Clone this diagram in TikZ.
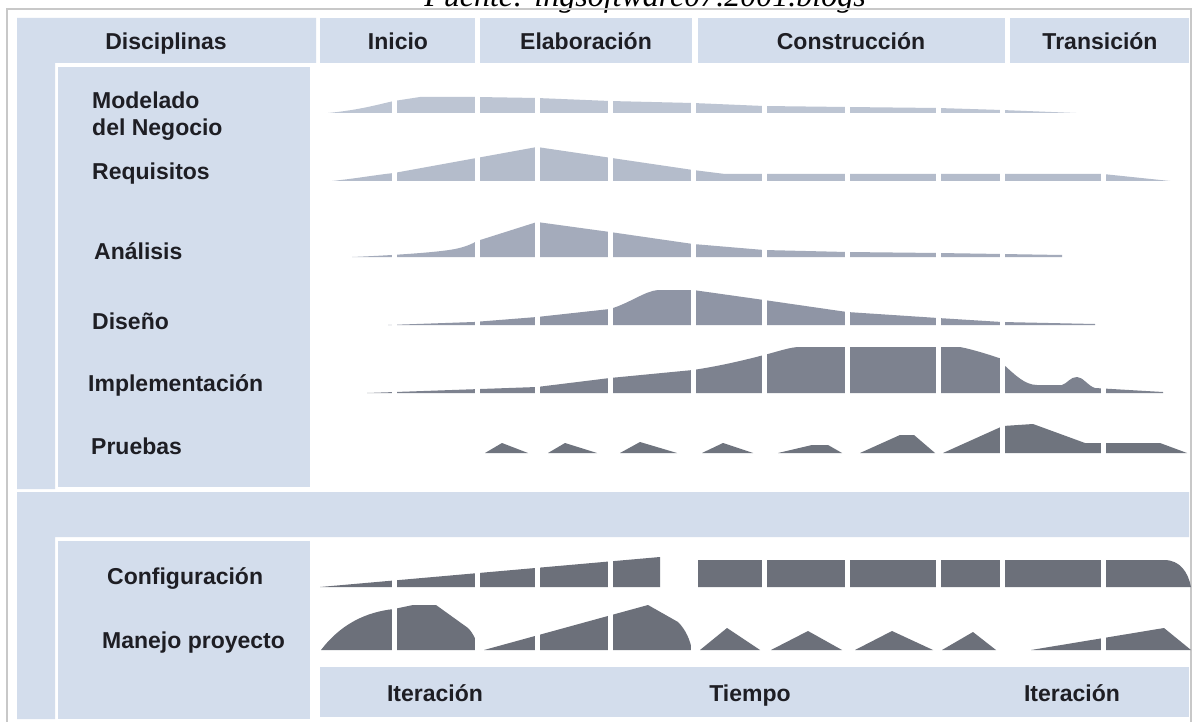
\documentclass[tikz,border=0pt]{standalone}
\usepackage{fontspec}
\setmainfont{Liberation Sans}
\newfontfamily\sourcefont{Liberation Serif}

\definecolor{panelblue}{RGB}{211,221,236}
\definecolor{framegray}{RGB}{200,200,200}
\definecolor{inktext}{RGB}{30,30,36}
\definecolor{modcol}{RGB}{189,197,211}
\definecolor{reqcol}{RGB}{180,188,203}
\definecolor{anacol}{RGB}{164,171,187}
\definecolor{discol}{RGB}{143,149,165}
\definecolor{impcol}{RGB}{125,130,143}
\definecolor{prucol}{RGB}{111,116,126}
\definecolor{supcol}{RGB}{108,112,122}

\tikzstyle{headtext} = [font=\fontsize{23}{27}\selectfont\bfseries, text=inktext, inner sep=0pt, text height=17pt, text depth=5pt]
\tikzstyle{rowtext} = [font=\fontsize{23}{27}\selectfont\bfseries, text=inktext, inner sep=0pt, anchor=west, align=left]
\tikzstyle{sepline} = [draw=white, line width=5pt]

\begin{document}
\begin{tikzpicture}[x=1pt, y=-1pt]

	\useasboundingbox (0,0) rectangle (1194,722);
	\clip (0,0) rectangle (1194,722);
	\fill[white] (0,0) rectangle (1194,722);

	% Source line, cut off at the top
	\node[anchor=base, inner sep=0pt, font=\sourcefont\itshape\fontsize{32}{36}\selectfont] (source) at (645,7) {Fuente: ingsoftware07.2001.blogs};

	% Frame and blue panels
	\draw[framegray, line width=1.5pt] (7,9) rectangle (1191,740);
	\fill[panelblue] (17,18) -- (316,18) -- (316,63) -- (55,63) -- (55,489) -- (17,489) -- cycle;
	\fill[panelblue] (17,492) -- (1189,492) -- (1189,537) -- (55,537) -- (55,719) -- (17,719) -- cycle;
	\fill[panelblue] (58,67) rectangle (310,487);
	\fill[panelblue] (58,541) rectangle (310,719);
	\fill[panelblue] (320,667) rectangle (1189,717);

	% Phases
	\fill[panelblue] (320,18) rectangle (475,63);
	\fill[panelblue] (480,18) rectangle (692,63);
	\fill[panelblue] (698,18) rectangle (1005,63);
	\fill[panelblue] (1010,18) rectangle (1189,63);
	\node[headtext] (disc) at (166,44) {Disciplinas};
	\node[headtext] (inicio) at (398,44) {Inicio};
	\node[headtext] (elab) at (586,44) {Elaboración};
	\node[headtext] (constr) at (851,44) {Construcción};
	\node[headtext] (trans) at (1100,44) {Transición};

	% Disciplines
	\node[rowtext] (modelado) at (92,116) {Modelado\\del Negocio};
	\node[rowtext] (requisitos) at (92,174) {Requisitos};
	\node[rowtext] (analisis) at (94,251) {Análisis};
	\node[rowtext] (diseno) at (92,321) {Diseño};
	\node[rowtext] (implem) at (88,385) {Implementación};
	\node[rowtext] (pruebas) at (91,446) {Pruebas};
	\node[rowtext] (config) at (107,578) {Configuración};
	\node[rowtext] (manejo) at (102,643) {Manejo proyecto};

	% Bottom axis
	\node[headtext] (iter1) at (435,695) {Iteración};
	\node[headtext] (tiempo) at (750,695) {Tiempo};
	\node[headtext] (iter2) at (1072,695) {Iteración};

	% Humps
	\fill[modcol] (328,113) .. controls (360,110) and (380,104) .. (394,101) -- (420,97) -- (477,97) -- (537,98) -- (610,101) -- (693,103) -- (764,106) -- (847,107) -- (938,108) -- (1002,110) -- (1076,113) -- cycle;
	\fill[reqcol] (332,181) .. controls (360,178) and (375,175) .. (394,173) -- (537,147) -- (693,170) -- (725,174) -- (1103,174) -- (1170,181) -- cycle;
	\fill[anacol] (352,257) .. controls (400,255) and (440,252) .. (455,249) .. controls (465,247) and (472,244) .. (477,241) -- (537,222) -- (610,232) -- (693,244) -- (764,250) -- (847,252) -- (938,253) -- (1002,254) -- (1062,255) -- (1062,257) -- cycle;
	\fill[discol] (388,325) -- (474,322) -- (537,317) -- (610,309) .. controls (630,303) and (645,291) .. (658,290) -- (693,290) -- (764,300) -- (847,312) -- (938,318) -- (1002,322) -- (1095,324) -- (1095,325) -- cycle;
	\fill[impcol] (367,393) -- (537,387) -- (610,378) -- (693,370) .. controls (720,366) and (745,360) .. (764,355) .. controls (780,351) and (790,347) .. (800,347) -- (960,347) .. controls (975,350) and (990,355) .. (1002,359) -- (1003,364) .. controls (1015,375) and (1025,385) .. (1037,385) -- (1062,385) .. controls (1068,383) and (1070,377) .. (1077,377) .. controls (1083,377) and (1088,386) .. (1095,388) -- (1163,392) -- (1163,393) -- cycle;
	\fill[prucol] (485,453) -- (502,443) -- (528,453) -- cycle;
	\fill[prucol] (548,453) -- (565,443) -- (597,453) -- cycle;
	\fill[prucol] (620,453) -- (640,442) -- (677,453) -- cycle;
	\fill[prucol] (702,453) -- (723,443) -- (753,453) -- cycle;
	\fill[prucol] (778,453) -- (812,445) -- (828,445) -- (842,453) -- cycle;
	\fill[prucol] (860,453) -- (900,435) -- (914,435) -- (935,453) -- cycle;
	\fill[prucol] (943,453) -- (1003,426) -- (1033,424) -- (1085,443) -- (1160,443) -- (1187,453) -- cycle;

	% Supporting disciplines
	\fill[supcol] (320,587) -- (660,557) -- (660,587) -- cycle;
	\fill[supcol] (698,560) -- (1164,560) .. controls (1180,560) and (1188,572) .. (1191,587) -- (698,587) -- cycle;
	\fill[supcol] (321,650) .. controls (340,625) and (365,612) .. (394,609) -- (413,605) -- (436,605) -- (468,628) .. controls (474,634) and (477,642) .. (478,650) -- cycle;
	\fill[supcol] (484,650) -- (648,605) -- (678,622) .. controls (686,630) and (690,640) .. (692,650) -- cycle;
	\fill[supcol] (700,650) -- (727,628) -- (760,650) -- cycle;
	\fill[supcol] (771,650) -- (808,631) -- (842,650) -- cycle;
	\fill[supcol] (855,650) -- (892,631) -- (933,650) -- cycle;
	\fill[supcol] (942,650) -- (973,632) -- (996,650) -- cycle;
	\fill[supcol] (1031,650) -- (1164,628) -- (1191,650) -- cycle;

	% Iteration cuts
	\foreach \t/\b in {95/114, 145/182, 220/258, 288/326, 345/394, 422/454, 555/588, 603/651}
		\foreach \x in {394,477,537,610,693,764,847,938,1002,1103}
			\draw[sepline] (\x,\t) -- (\x,\b);

\end{tikzpicture}
\end{document}
